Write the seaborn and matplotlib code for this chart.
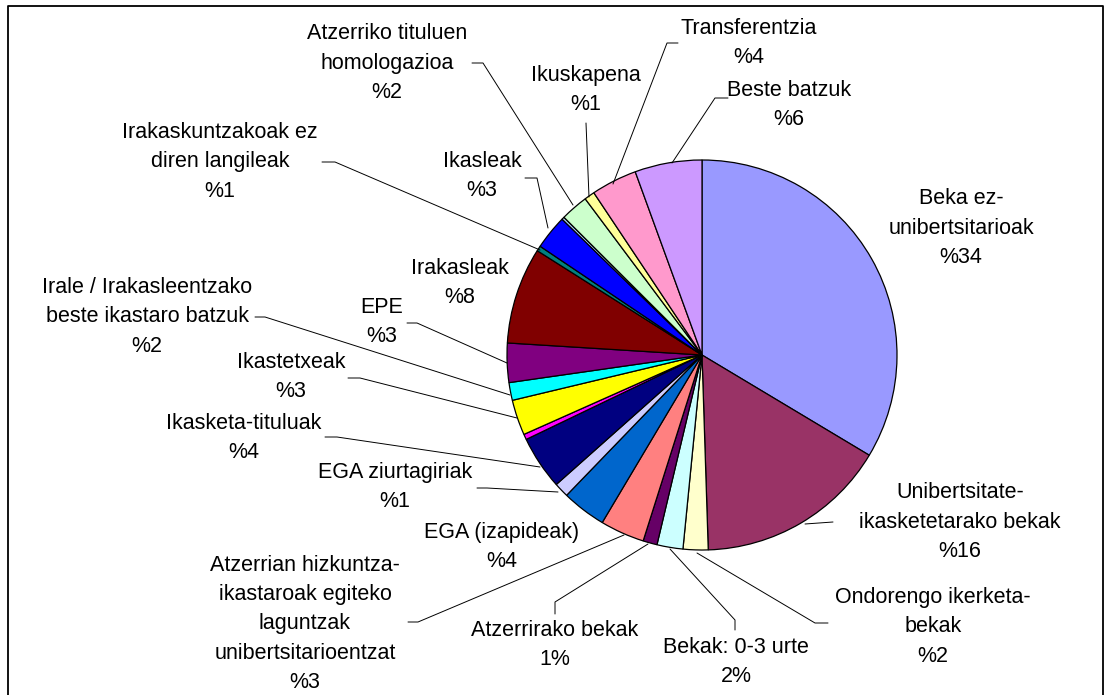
import matplotlib
matplotlib.use("Agg")
import matplotlib.pyplot as plt
import seaborn as sns

# ---------------- data ----------------
categories = [
    "Beka ez-\nunibertsitarioak",
    "Unibertsitate-\nikasketetarako bekak",
    "Ondorengo ikerketa-\nbekak",
    "Bekak: 0-3 urte",
    "Atzerrirako bekak",
    "Atzerrian hizkuntza-\nikastaroak egiteko\nlaguntzak\nunibertsitarioentzat",
    "EGA (izapideak)",
    "EGA ziurtagiriak",
    "Ikasketa-tituluak",
    "",
    "Ikastetxeak",
    "Irale / Irakasleentzako\nbeste ikastaro batzuk",
    "EPE",
    "Irakasleak",
    "Irakaskuntzakoak ez\ndiren langileak",
    "Ikasleak",
    "",
    "Atzerriko tituluen\nhomologazioa",
    "Ikuskapena",
    "Transferentzia",
    "Beste batzuk",
]
values = [33.6, 15.9, 2.07, 2.15, 1.17, 3.67, 3.67, 1.22, 4.44, 0.45, 2.94,
          1.47, 3.25, 8.0, 0.43, 2.85, 0.22, 2.3, 0.86, 3.8, 5.56]
pct_labels = ["%34", "%16", "%2", "2%", "1%", "%3", "%4", "%1", "%4", "", "%3",
              "%2", "%3", "%8", "%1", "%3", "", "%2", "%1", "%4", "%6"]
colors = ["#9999FF", "#993366", "#FFFFCC", "#CCFFFF", "#660066", "#FF8080",
          "#0066CC", "#CCCCFF", "#000080", "#FF00FF", "#FFFF00", "#00FFFF",
          "#800080", "#800000", "#008080", "#0000FF", "#A6CAF0", "#CCFFCC",
          "#FFFF99", "#FF99CC", "#CC99FF"]

# ---------------- layout (pixel positions) ----------------
label_pos = [
    (961, 228), (960, 522), (933, 627), (736, 662), (555, 645), (305, 624),
    (502, 547), (395, 487), (244, 438), None, (291, 377), (147, 317),
    (382, 322), (460, 283), (220, 162), (482, 176), None, (387, 63),
    (586, 90), (749, 43), (789, 105),
]
leaders = [
    None,
    [(833, 522), (805, 524)],
    [(828, 623), (815, 623), (697, 553)],
    [(735, 630), (735, 620), (670, 549)],
    [(555, 614), (555, 602), (648, 544)],
    [(408, 622), (418, 622), (624, 535)],
    None,
    [(477, 488), (487, 488), (558, 492)],
    [(325, 437), (337, 437), (540, 467)],
    None,
    [(348, 378), (360, 378), (517, 418)],
    [(255, 317), (265, 317), (510, 395)],
    [(407, 323), (417, 323), (507, 363)],
    None,
    [(322, 162), (335, 162), (540, 250)],
    [(525, 178), (537, 178), (548, 228)],
    None,
    [(472, 63), (483, 63), (573, 205)],
    [(586, 123), (589, 197)],
    [(678, 43), (667, 43), (613, 184)],
    [(728, 98), (715, 98), (672, 163)],
]

sns.set_theme(style="white")
plt.rcParams['font.family'] = ['Liberation Sans', 'DejaVu Sans']

W, H = 1113, 695
fig = plt.figure(figsize=(W / 100, H / 100), dpi=100)
fig.patch.set_facecolor("white")
ax = fig.add_axes([0, 0, 1, 1])

palette = sns.color_palette(colors)
wedges, _ = ax.pie(values, colors=palette, startangle=-90, counterclock=True,
                   center=(702, 355), radius=195, frame=False,
                   wedgeprops=dict(edgecolor="black", linewidth=0.9))
ax.set_xlim(0, W)
ax.set_ylim(H, 0)
ax.set_aspect("equal")
ax.axis("off")

for name, pct, pos, lead in zip(categories, pct_labels, label_pos, leaders):
    if pos is None:
        continue
    ax.text(pos[0], pos[1], name + "\n" + pct, ha="center", va="center",
            multialignment="center", fontsize=15.5, color="black",
            linespacing=1.52)
    if lead is not None:
        xs = [p[0] for p in lead]
        ys = [p[1] for p in lead]
        ax.plot(xs, ys, color="black", lw=0.7)

# outer frame
ax.plot([8, 8, 1103, 1103], [H + 5, 6, 6, H + 5], color="black", lw=1.3,
        clip_on=False)

fig.savefig("out.png", dpi=100, facecolor="white")
